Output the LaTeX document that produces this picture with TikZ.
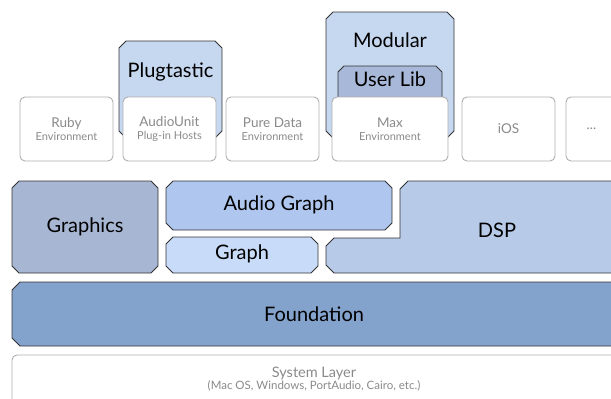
\documentclass[tikz,border=0pt]{standalone}
\usepackage{fontspec}
\setmainfont{Lato}
\usetikzlibrary{positioning}

\definecolor{plugblue}{HTML}{C6D7F0}
\definecolor{userblue}{HTML}{A8B8D8}
\definecolor{gfxblue}{HTML}{A7B6D3}
\definecolor{agblue}{HTML}{AFC6EF}
\definecolor{graphblue}{HTML}{C8DBF9}
\definecolor{dspblue}{HTML}{B7CAE7}
\definecolor{foundblue}{HTML}{84A3CC}
\definecolor{envgray}{HTML}{AFAFAF}
\definecolor{envtext}{HTML}{8A8A8A}

\tikzset{
  cutline/.style={draw=black!80,line width=0.9pt},
  slot/.style={rectangle,inner sep=0pt,outer sep=0pt},
  envbox/.style={rectangle,rounded corners=5pt,draw=envgray,line width=0.9pt,
    fill=white,minimum width=93pt,minimum height=64pt,inner sep=0pt,outer sep=0pt,
    align=center,text=envtext,font=\fontsize{13.5}{14}\selectfont},
  title/.style={font=\fontsize{20}{22}\selectfont,inner sep=0pt},
}
\newcommand{\envsub}[1]{\\[-1pt]{\fontsize{11}{12}\selectfont #1}}
% chamfered box round a named slot
\newcommand{\cutbox}[3][7pt]{\draw[cutline,fill=#3]
  ([xshift=#1]#2.north west) -- ([xshift=-#1]#2.north east)
  -- ([yshift=-#1]#2.north east) -- ([yshift=#1]#2.south east)
  -- ([xshift=-#1]#2.south east) -- ([xshift=#1]#2.south west)
  -- ([yshift=#1]#2.south west) -- ([yshift=-#1]#2.north west) -- cycle;}

\begin{document}
\begin{tikzpicture}[x=1pt,y=-1pt]
\useasboundingbox (0,0) rectangle (611,399);
\clip (0,0) rectangle (611,399);

% plug-ins sitting behind the environments
\node (plugtastic)[slot,minimum width=103pt,minimum height=97pt] at (170.5,89.5) {};
\cutbox{plugtastic}{plugblue}
\node (plugtitle)[title] at (170.5,72) {Plugtastic};
\node (modular)[slot,minimum width=128pt,minimum height=126pt] at (390,75) {};
\cutbox{modular}{plugblue}
\node (modtitle)[title] at (390,40) {Modular};
\node (userlib)[slot,minimum width=104pt,minimum height=40pt] at (390,86) {};
\cutbox[6pt]{userlib}{userblue}
\node (usertitle)[title] at (390,79) {User Lib};

% environments
\node (ruby)[envbox] at (66.5,129) {Ruby\envsub{Environment}};
\node (audiounit)[envbox,right=10pt of ruby] {AudioUnit\envsub{Plug-in Hosts}};
\node (puredata)[envbox,right=10pt of audiounit] {Pure Data\envsub{Environment}};
\node (max)[envbox,minimum width=116pt,right=13pt of puredata] {Max\envsub{Environment}};
\node (ios)[envbox,right=14pt of max] {iOS};
\node (more)[envbox,right=11pt of ios] {\hspace*{-42pt}...};

% libraries
\node (graphics)[slot,minimum width=146pt,minimum height=92pt] at (85,227) {};
\cutbox{graphics}{gfxblue}
\node (gfxtitle)[title] at (85,227) {Graphics};
\node (audiograph)[slot,minimum width=226pt,minimum height=49pt] at (279,205.5) {};
\cutbox{audiograph}{agblue}
\node (agtitle)[title] at (279,205) {Audio Graph};
\node (graph)[slot,minimum width=152pt,minimum height=36pt] at (242,255) {};
\cutbox{graph}{graphblue}
\node (graphtitle)[title] at (242,254) {Graph};
\draw[cutline,fill=dspblue]
  (400,189) -- (408,181) -- (625,181) -- (625,273) -- (334,273) -- (326,265)
  -- (326,246) -- (334,238) -- (400,238) -- cycle;
\node (dsp)[title] at (497,230) {DSP};

% foundation and system
\draw[cutline,fill=foundblue]
  (20,282) -- (625,282) -- (625,346) -- (20,346) -- (12,338) -- (12,290) -- cycle;
\node (foundation)[title] at (314,314) {Foundation};
\draw[fill=white,draw=envgray,line width=0.9pt,rounded corners=5pt]
  (12,420) -- (12,355) -- (625,355) -- (625,420);
\node (system)[align=center,text=envtext,font=\fontsize{14.5}{15}\selectfont,inner sep=0pt] at (314,379)
  {System Layer\\[-3pt]{\fontsize{11.5}{12}\selectfont (Mac OS, Windows, PortAudio, Cairo, etc.)}};
\end{tikzpicture}
\end{document}
